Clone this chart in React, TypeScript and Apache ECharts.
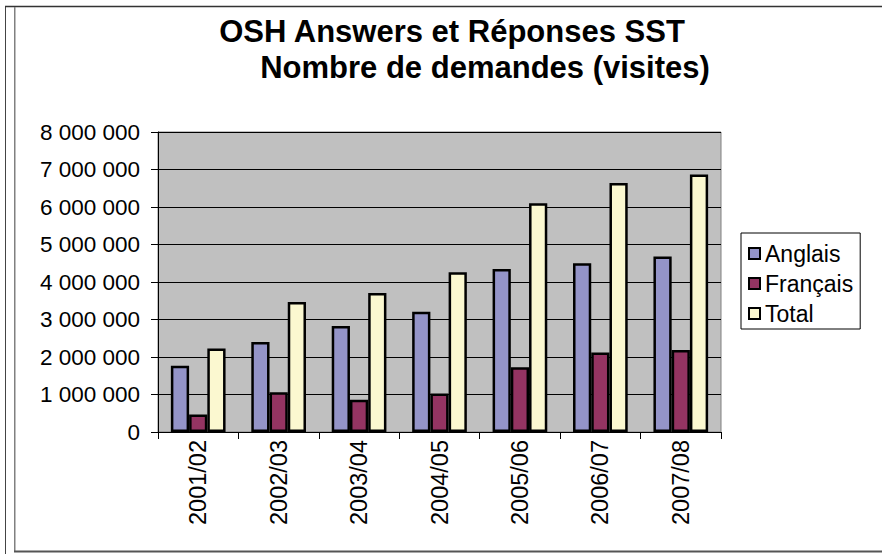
import React, { useEffect, useRef } from "react";
import * as echarts from "echarts";

const categories = ["2001/02", "2002/03", "2003/04", "2004/05", "2005/06", "2006/07", "2007/08"];
const anglais = [1770000, 2400000, 2830000, 3210000, 4350000, 4500000, 4680000];
const francais = [470000, 1060000, 860000, 1030000, 1730000, 2120000, 2190000];
const total = [2230000, 3470000, 3710000, 4260000, 6100000, 6640000, 6870000];
const seriesNames = ["Anglais", "Français", "Total"];
const titleLines = ["OSH Answers et Réponses SST", "Nombre de demandes (visites)"];

const FONT = "'Liberation Sans', Arial, sans-serif";

function fmt(v: number): string {
  return String(v).replace(/\B(?=(\d{3})+(?!\d))/g, " ");
}

export default function App() {
  const ref = useRef<HTMLDivElement>(null);
  useEffect(() => {
    if (!ref.current) return;
    const chart = echarts.init(ref.current, null, { renderer: "svg" });
    const colors = ["#9494c8", "#943462", "#fbf8d0"];
    const data = [anglais, francais, total];
    chart.setOption({
      animation: false,
      backgroundColor: "#ffffff",
      textStyle: { fontFamily: FONT },
      grid: {
        left: 158,
        right: 161,
        top: 132,
        bottom: 122,
        show: true,
        backgroundColor: "#c0c0c0",
        borderColor: "#808080",
        borderWidth: 1,
      },
      legend: {
        orient: "vertical",
        left: 741,
        top: 233,
        data: seriesNames,
        icon: "rect",
        itemWidth: 11,
        itemHeight: 11,
        itemGap: 7,
        padding: [9, 7, 4, 7],
        borderColor: "#000",
        borderWidth: 1,
        backgroundColor: "#fff",
        textStyle: { fontSize: 23, color: "#000", fontFamily: FONT, lineHeight: 22, padding: [0, 0, 0, 0] },
      },
      xAxis: {
        type: "category",
        data: categories,
        axisLine: { lineStyle: { color: "#000", width: 1 } },
        axisTick: { show: true, interval: 0, alignWithLabel: false, length: 7, lineStyle: { color: "#000" } },
        axisLabel: { rotate: 90, fontSize: 23.5, color: "#000", margin: 8, interval: 0, fontFamily: FONT },
      },
      yAxis: {
        type: "value",
        min: 0,
        max: 8000000,
        interval: 1000000,
        axisLine: { show: true, lineStyle: { color: "#000", width: 1 } },
        axisTick: { show: true, length: 7, lineStyle: { color: "#000" } },
        splitLine: { show: true, lineStyle: { color: "#000", width: 1 } },
        axisLabel: { fontSize: 22.5, color: "#000", margin: 18, formatter: (v: number) => fmt(v), fontFamily: FONT },
      },
      series: seriesNames.map((name, i) => ({
        name,
        type: "bar",
        data: data[i],
        barGap: "0%",
        barCategoryGap: "32%",
        itemStyle: { color: colors[i], borderColor: "#000", borderWidth: 2.5 },
      })),
      graphic: [
        {
          type: "text",
          x: 452,
          y: 31,
          style: {
            text: titleLines[0],
            font: `bold 31px ${FONT}`,
            fill: "#000",
            align: "center",
            verticalAlign: "middle",
          },
        },
        {
          type: "text",
          x: 485,
          y: 67,
          style: {
            text: titleLines[1],
            font: `bold 31px ${FONT}`,
            fill: "#000",
            align: "center",
            verticalAlign: "middle",
          },
        },
        { type: "line", shape: { x1: 5.5, y1: 6, x2: 5.5, y2: 554 }, style: { stroke: "#444", lineWidth: 1 } },
        { type: "line", shape: { x1: 5, y1: 6.5, x2: 882, y2: 6.5 }, style: { stroke: "#333", lineWidth: 1.5 } },
        { type: "line", shape: { x1: 14.75, y1: 7, x2: 14.75, y2: 552 }, style: { stroke: "#808080", lineWidth: 1.5 } },
        { type: "line", shape: { x1: 14, y1: 551.5, x2: 882, y2: 551.5 }, style: { stroke: "#555", lineWidth: 2 } },
      ],
    });
    return () => chart.dispose();
  }, []);
  return (
    <div
      ref={ref}
      style={{ position: "fixed", left: 0, top: 0, width: 882, height: 554, background: "#fff" }}
    />
  );
}
